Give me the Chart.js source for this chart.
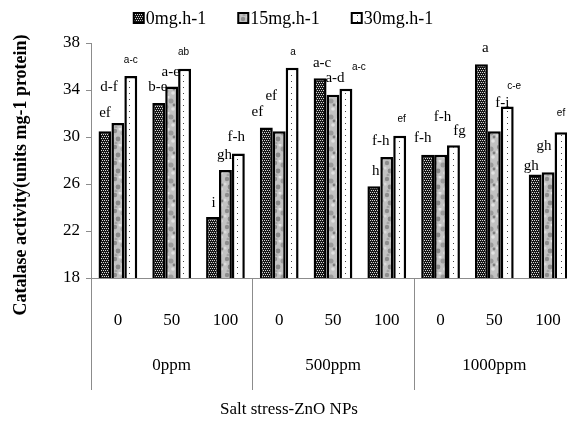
<!DOCTYPE html>
<html>
<head>
<meta charset="utf-8">
<script src="https://cdn.jsdelivr.net/npm/chart.js@4.4.0/dist/chart.umd.min.js"></script>
<style>
    html, body { margin: 0; padding: 0; background: #fff; overflow: hidden; }
</style>
</head>
<body>
<canvas id="statsChart" width="575" height="425"></canvas>
<script>
// data
const categories = ['0', '50', '100', '0', '50', '100', '0', '50', '100'];
const groups = ['0ppm', '500ppm', '1000ppm'];
const seriesNames = ['0mg.h-1', '15mg.h-1', '30mg.h-1'];
const dose0 = [30.5, 32.9, 23.2, 30.8, 35.0, 25.8, 28.5, 36.2, 26.8];
const dose15 = [31.2, 34.3, 27.2, 30.5, 33.6, 28.3, 28.5, 30.5, 27.0];
const dose30 = [35.2, 35.8, 28.6, 35.9, 34.1, 30.1, 29.3, 32.6, 30.4];
const letters0 = ['ef', 'b-e', 'i', 'ef', 'a-c', 'h', 'f-h', 'a', 'gh'];
const letters15 = ['d-f', 'a-e', 'gh', 'ef', 'a-d', 'f-h', 'f-h', 'f-i', 'gh'];
const letters30 = ['a-c', 'ab', 'f-h', 'a', 'a-c', 'ef', 'fg', 'c-e', 'ef'];
const yTicks = [18, 22, 26, 30, 34, 38];

// where the letters sit relative to the top of their bar (dx, dy)
const labelOffsets = [
    [[0, -18], [-1, -16], [1, -14], [-9, -16], [2, -15], [2, -15], [-5, -17], [4, -16], [-4, -9]],
    [[-9, -36], [-1, -14], [-1, -15], [-8, -35], [2, -17], [-6, -16], [2, -38], [8, -28], [-4, -26]],
    [[0, -16], [-1, -17], [-2, -16], [1, -15], [13, -22], [2, -17], [6, -14], [7, -20], [0, -19]]
];
const smallLabels = [
    [0, 0, 0, 0, 0, 0, 0, 0, 0],
    [0, 0, 0, 0, 0, 0, 0, 0, 0],
    [1, 1, 0, 1, 1, 1, 0, 1, 1]
];
const letters = [letters0, letters15, letters30];

const SERIF = '"Liberation Serif", "DejaVu Serif", serif';
const SANS = '"Liberation Sans", "DejaVu Sans", sans-serif';
const AXIS_GREY = '#8c8c8c';
const VIEW_W = 567;

function makePattern(w, h, paint) {
    const c = document.createElement('canvas');
    c.width = w;
    c.height = h;
    const g = c.getContext('2d');
    paint(g);
    return c;
}

const checkerTile = makePattern(4, 4, function(g) {
    g.fillStyle = '#151515';
    g.fillRect(0, 0, 4, 4);
    g.fillStyle = '#d8d8d8';
    g.fillRect(0, 0, 1, 1);
    g.fillRect(2, 0, 1, 1);
    g.fillRect(1, 2, 1, 1);
    g.fillRect(3, 2, 1, 1);
});

const mottleTile = makePattern(16, 16, function(g) {
    g.fillStyle = '#c2c2c2';
    g.fillRect(0, 0, 16, 16);
    const blobs = [[3, 3, 2.2, '#8e8e8e'], [11, 5, 2.5, '#9a9a9a'], [6, 11, 2.4, '#8a8a8a'],
                   [13, 13, 1.8, '#e2e2e2'], [8, 1, 1.5, '#e4e4e4'], [1, 8, 1.6, '#dadada'],
                   [14, 9, 1.4, '#808080'], [4, 15, 1.5, '#a4a4a4']];
    blobs.forEach(function(b) {
        g.fillStyle = b[3];
        g.beginPath();
        g.arc(b[0], b[1], b[2], 0, Math.PI * 2);
        g.fill();
    });
});

const dotTile = makePattern(6, 6, function(g) {
    g.fillStyle = '#ffffff';
    g.fillRect(0, 0, 6, 6);
    g.fillStyle = '#444';
    g.fillRect(3, 3, 1, 1);
});

const ctx = document.getElementById('statsChart').getContext('2d');
const fills = [
    ctx.createPattern(checkerTile, 'repeat'),
    ctx.createPattern(mottleTile, 'repeat'),
    ctx.createPattern(dotTile, 'repeat')
];

const decorations = {
    id: 'decorations',
    afterDatasetsDraw(chart) {
        const c = chart.ctx;
        c.save();
        c.fillStyle = '#000';
        c.textAlign = 'center';
        c.textBaseline = 'middle';
        chart.data.datasets.forEach(function(ds, i) {
            chart.getDatasetMeta(i).data.forEach(function(bar, j) {
                const off = labelOffsets[i][j];
                c.font = smallLabels[i][j] ? '10px ' + SANS : '15px ' + SERIF;
                c.fillText(letters[i][j], bar.x + off[0], bar.y + off[1]);
            });
        });
        c.restore();
    },
    afterDraw(chart) {
        const c = chart.ctx;
        const x = chart.scales.x;
        const area = chart.chartArea;
        c.save();

        // group separators and group names under the axis
        c.strokeStyle = AXIS_GREY;
        c.lineWidth = 1;
        for (let k = 0; k <= groups.length; k++) {
            let px;
            if (k === 0) px = area.left;
            else if (k === groups.length) px = area.right;
            else px = (x.getPixelForValue(3 * k - 1) + x.getPixelForValue(3 * k)) / 2;
            c.beginPath();
            c.moveTo(Math.round(px) + 0.5, area.bottom);
            c.lineTo(Math.round(px) + 0.5, area.bottom + 112);
            c.stroke();
        }
        c.fillStyle = '#000';
        c.font = '17px ' + SERIF;
        c.textAlign = 'center';
        c.textBaseline = 'middle';
        groups.forEach(function(name, k) {
            c.fillText(name, x.getPixelForValue(3 * k + 1), area.bottom + 88);
        });

        // axis titles
        c.fillText('Salt stress-ZnO NPs', 289, 410);
        c.save();
        c.translate(21, 175);
        c.rotate(-Math.PI / 2);
        c.font = 'bold 18px ' + SERIF;
        c.fillText('Catalase activity(units mg-1 protein)', 0, 0);
        c.restore();

        // legend
        c.font = '18px ' + SERIF;
        const gap = 32;
        const box = 10;
        const widths = seriesNames.map(function(n) { return box + 2 + c.measureText(n).width; });
        const total = widths.reduce(function(a, b) { return a + b; }, 0) + gap * (seriesNames.length - 1);
        let lx = (VIEW_W - total) / 2;
        const ly = 18;
        c.textAlign = 'left';
        seriesNames.forEach(function(n, i) {
            c.fillStyle = fills[i];
            c.fillRect(lx, ly - box / 2, box, box);
            c.strokeStyle = '#000';
            c.lineWidth = 2;
            c.strokeRect(lx, ly - box / 2, box, box);
            c.fillStyle = '#000';
            c.fillText(n, lx + box + 2, ly + 1);
            lx += widths[i] + gap;
        });
        c.restore();
    }
};

new Chart(ctx, {
    type: 'bar',
    data: {
        labels: categories,
        datasets: [
            { label: seriesNames[0], data: dose0, backgroundColor: fills[0] },
            { label: seriesNames[1], data: dose15, backgroundColor: fills[1] },
            { label: seriesNames[2], data: dose30, backgroundColor: fills[2] }
        ]
    },
    options: {
        responsive: false,
        animation: false,
        devicePixelRatio: 1,
        layout: { padding: { top: 43, right: 0, bottom: 0, left: 0 } },
        datasets: {
            bar: {
                borderColor: '#000',
                borderWidth: 2.5,
                barPercentage: 1,
                categoryPercentage: 0.72
            }
        },
        plugins: {
            legend: { display: false },
            tooltip: { enabled: false }
        },
        scales: {
            x: {
                grid: { display: true, drawOnChartArea: false, tickLength: 32, color: 'rgba(0,0,0,0)' },
                border: { color: AXIS_GREY },
                ticks: { color: '#000', font: { family: SERIF, size: 17 }, padding: 0, maxRotation: 0 },
                afterFit(scale) { scale.height = 147; }
            },
            y: {
                min: 18,
                max: 38,
                afterBuildTicks(scale) { scale.ticks = yTicks.map(function(v) { return { value: v }; }); },
                grid: { drawOnChartArea: false, tickLength: 5, color: AXIS_GREY },
                border: { color: AXIS_GREY },
                ticks: { color: '#000', font: { family: SERIF, size: 17 }, padding: 6 },
                afterFit(scale) { scale.width = 91; }
            }
        }
    },
    plugins: [decorations]
});
</script>
</body>
</html>
